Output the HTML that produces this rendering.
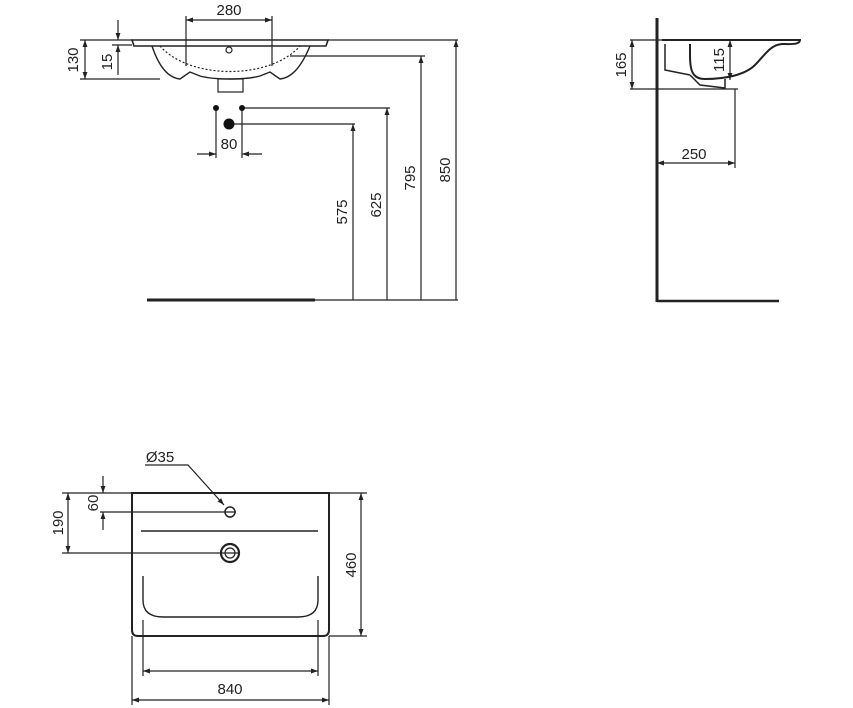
<!DOCTYPE html>
<html><head><meta charset="utf-8"><style>
html,body{margin:0;padding:0;background:#fff}
svg{display:block}
text{font-family:"Liberation Sans",sans-serif;font-size:15px;fill:#222}
</style></head><body>
<svg width="853" height="708" viewBox="0 0 853 708" xmlns="http://www.w3.org/2000/svg">
<defs>
<marker id="a" viewBox="0 0 10 10" refX="10" refY="5" markerWidth="7" markerHeight="7" markerUnits="userSpaceOnUse" orient="auto-start-reverse"><path d="M0,1.5 L10,5 L0,8.5 z" fill="#222"/></marker>
</defs>
<g stroke="#222" fill="none" stroke-width="1.2">
<!-- top-left view -->
<line x1="186" y1="16" x2="186" y2="66"/><line x1="272" y1="16" x2="272" y2="66"/>
<line x1="186" y1="20" x2="272" y2="20" marker-start="url(#a)" marker-end="url(#a)"/>
<line x1="80" y1="40" x2="132" y2="40"/><line x1="80" y1="79" x2="160" y2="79"/>
<line x1="85" y1="40" x2="85" y2="79" marker-start="url(#a)" marker-end="url(#a)"/>
<line x1="112" y1="45" x2="132" y2="45"/>
<line x1="118" y1="20" x2="118" y2="40" marker-end="url(#a)"/>
<line x1="118" y1="75" x2="118" y2="45" marker-end="url(#a)"/>
<path d="M132,40 L328,40 L326,46 L134,46 Z" stroke-width="1.6"/>
<path d="M152,46 C160,70 170,78 180,79 L190,72 L200,76 C215,80 245,80 260,76 L270,72 L280,79 C290,78 300,70 310,46" stroke-width="1.4"/>
<path d="M160,46 C190,80 270,80 300,46" stroke-dasharray="2,2"/>
<rect x="218" y="79" width="25" height="13"/>
<circle cx="229" cy="50" r="3"/>
<line x1="328" y1="40" x2="458" y2="40"/>
<line x1="290" y1="56" x2="425" y2="56"/>
<line x1="243" y1="108" x2="390" y2="108"/>
<line x1="232" y1="124" x2="355" y2="124"/>
<line x1="353" y1="300" x2="353" y2="124" marker-end="url(#a)"/>
<line x1="387" y1="300" x2="387" y2="108" marker-end="url(#a)"/>
<line x1="421" y1="300" x2="421" y2="56" marker-end="url(#a)"/>
<line x1="456" y1="300" x2="456" y2="40" marker-end="url(#a)"/>
<line x1="315" y1="300" x2="458" y2="300"/>
<line x1="216" y1="108" x2="216" y2="158"/><line x1="242" y1="108" x2="242" y2="158"/>
<line x1="197" y1="154" x2="216" y2="154" marker-end="url(#a)"/>
<line x1="262" y1="154" x2="242" y2="154" marker-end="url(#a)"/>
<!-- right view -->
<line x1="630" y1="40" x2="662" y2="40"/><line x1="630" y1="89" x2="738" y2="89"/>
<line x1="632" y1="40" x2="632" y2="89" marker-start="url(#a)" marker-end="url(#a)"/>
<line x1="730" y1="40" x2="730" y2="80" marker-start="url(#a)" marker-end="url(#a)"/>
<line x1="735" y1="89" x2="735" y2="168"/>
<line x1="657" y1="163" x2="735" y2="163" marker-start="url(#a)" marker-end="url(#a)"/>
<path d="M662,40 L800,40 C800,45 790,44 782,44 C770,45 765,55 755,65 C745,75 725,79 705,79 C692,79 690,70 690,55 L690,44" stroke-width="2"/>
<path d="M665,44 L665,70 L690,75 M690,75 L700,85 L725,88 L725,79" stroke-width="1.5"/>
<line x1="657" y1="18" x2="657" y2="302" stroke-width="3"/>
<line x1="657" y1="301" x2="779" y2="301" stroke-width="2.5"/>
<!-- bottom view -->
<path d="M132,493 L329,493 L329,630 Q329,636 323,636 L138,636 Q132,636 132,630 Z" stroke-width="2"/>
<line x1="141" y1="531" x2="318" y2="531" stroke-width="1.6"/>
<circle cx="230" cy="512" r="5" stroke-width="1.5"/>
<circle cx="230" cy="553" r="9" stroke-width="2.2"/><circle cx="230" cy="553" r="5"/>
<path d="M143,576 L143,600 Q143,617 163,617 L298,617 Q318,617 318,600 L318,576" stroke-width="1.4"/>
<line x1="329" y1="493" x2="367" y2="493"/><line x1="329" y1="636" x2="367" y2="636"/>
<line x1="361" y1="493" x2="361" y2="636" marker-start="url(#a)" marker-end="url(#a)"/>
<line x1="62" y1="493" x2="132" y2="493"/>
<line x1="62" y1="553" x2="238" y2="553"/>
<line x1="100" y1="512" x2="236" y2="512"/>
<line x1="68" y1="493" x2="68" y2="553" marker-start="url(#a)" marker-end="url(#a)"/>
<line x1="103" y1="476" x2="103" y2="493" marker-end="url(#a)"/>
<line x1="103" y1="530" x2="103" y2="512" marker-end="url(#a)"/>
<line x1="143" y1="620" x2="143" y2="676"/><line x1="318" y1="620" x2="318" y2="676"/>
<line x1="132" y1="636" x2="132" y2="705"/><line x1="329" y1="636" x2="329" y2="705"/>
<line x1="143" y1="671" x2="318" y2="671" marker-start="url(#a)" marker-end="url(#a)"/>
<line x1="132" y1="700" x2="329" y2="700" marker-start="url(#a)" marker-end="url(#a)"/>
<polyline points="145,465 188,465 224,505" marker-end="url(#a)"/>
</g>
<g fill="#111">
<circle cx="216" cy="108" r="3"/><circle cx="242" cy="108" r="3"/><circle cx="229" cy="124" r="5.5"/>
</g>
<path d="M147,300 L315,300" stroke="#222" stroke-width="3"/>
<text x="229" y="15" text-anchor="middle">280</text>
<text x="229" y="149" text-anchor="middle">80</text>
<text transform="translate(78,60) rotate(-90)" text-anchor="middle">130</text>
<text transform="translate(112,62) rotate(-90)" text-anchor="middle">15</text>
<text transform="translate(347,212) rotate(-90)" text-anchor="middle">575</text>
<text transform="translate(381,205) rotate(-90)" text-anchor="middle">625</text>
<text transform="translate(415,178) rotate(-90)" text-anchor="middle">795</text>
<text transform="translate(450,170) rotate(-90)" text-anchor="middle">850</text>
<text transform="translate(626,65) rotate(-90)" text-anchor="middle">165</text>
<text transform="translate(724,60) rotate(-90)" text-anchor="middle">115</text>
<text x="694" y="159" text-anchor="middle">250</text>
<text x="160" y="462" text-anchor="middle">Ø35</text>
<text transform="translate(63,523) rotate(-90)" text-anchor="middle">190</text>
<text transform="translate(98,503) rotate(-90)" text-anchor="middle">60</text>
<text transform="translate(356,565) rotate(-90)" text-anchor="middle">460</text>
<text x="230" y="694" text-anchor="middle">840</text>
</svg>
</body></html>
